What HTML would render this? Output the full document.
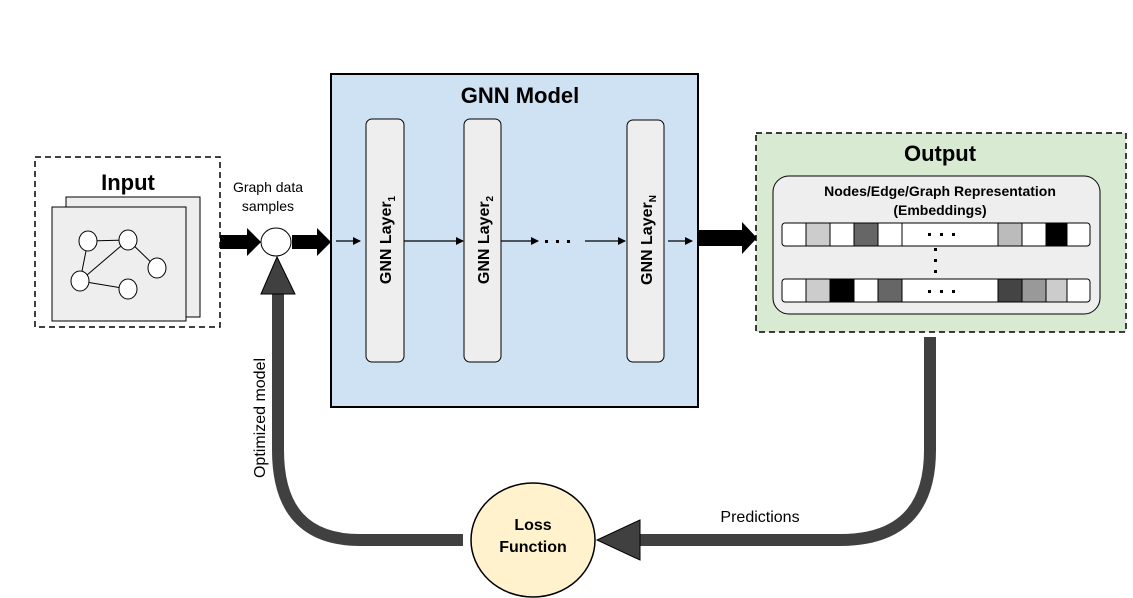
<!DOCTYPE html>
<html><head><meta charset="utf-8"><style>
html,body{margin:0;padding:0;background:#fff;}
svg{display:block;font-family:"Liberation Sans",Arial,sans-serif;}
</style></head><body>
<svg width="1133" height="598" viewBox="0 0 1133 598" xmlns="http://www.w3.org/2000/svg">
<defs>
<marker id="ah" markerWidth="8" markerHeight="8" refX="7" refY="4" orient="auto" markerUnits="userSpaceOnUse"><path d="M0,0 L8,4 L0,8 Z" fill="#000"/></marker>
</defs>
<!-- Input -->
<rect x="35" y="157" width="185" height="170" fill="#fff" stroke="#000" stroke-width="1.5" stroke-dasharray="6,4"/>
<text x="128" y="190" font-size="22" font-weight="bold" text-anchor="middle">Input</text>
<rect x="66" y="197" width="134" height="120" fill="#eee" stroke="#000" stroke-width="1"/>
<rect x="52" y="207" width="134" height="114" fill="#eee" stroke="#000" stroke-width="1"/>
<g stroke="#000" stroke-width="1" fill="#fff">
<line x1="88" y1="241" x2="128" y2="240"/><line x1="88" y1="241" x2="80" y2="281"/>
<line x1="128" y1="240" x2="80" y2="281"/><line x1="128" y1="240" x2="157" y2="268"/>
<line x1="80" y1="281" x2="128" y2="289"/>
<ellipse cx="88" cy="241" rx="9" ry="10"/><ellipse cx="128" cy="240" rx="9" ry="10"/>
<ellipse cx="157" cy="268" rx="9" ry="10"/><ellipse cx="80" cy="281" rx="9" ry="10"/>
<ellipse cx="128" cy="289" rx="9" ry="10"/>
</g>
<text x="268" y="192" font-size="14" text-anchor="middle">Graph data</text>
<text x="268" y="211" font-size="14" text-anchor="middle">samples</text>
<!-- big arrows -->
<path d="M220,235 H247 V228 L261,242 L247,256 V249 H220 Z" fill="#000"/>
<path d="M292,235 H317 V228 L331,242 L317,256 V249 H292 Z" fill="#000"/>
<path d="M699,230 H742 V222 L757,238 L742,254 V246 H699 Z" fill="#000"/>
<ellipse cx="276" cy="242" rx="15" ry="14" fill="#fff" stroke="#000" stroke-width="1"/>
<!-- GNN model -->
<rect x="331" y="74" width="367" height="333" fill="#cfe2f3" stroke="#000" stroke-width="2"/>
<text x="520" y="103" font-size="22" font-weight="bold" text-anchor="middle">GNN Model</text>
<g fill="#eee" stroke="#000" stroke-width="1">
<rect x="366" y="119" width="38" height="243" rx="6"/>
<rect x="464" y="119" width="37" height="243" rx="6"/>
<rect x="627" y="120" width="37" height="242" rx="6"/>
</g>
<g font-size="16" font-weight="bold">
<text transform="translate(391,240) rotate(-90)" text-anchor="middle">GNN Layer<tspan font-size="10" dy="4">1</tspan></text>
<text transform="translate(489,240) rotate(-90)" text-anchor="middle">GNN Layer<tspan font-size="10" dy="4">2</tspan></text>
<text transform="translate(652,240) rotate(-90)" text-anchor="middle">GNN Layer<tspan font-size="10" dy="4">N</tspan></text>
</g>
<g stroke="#000" stroke-width="1.3" marker-end="url(#ah)">
<line x1="336" y1="241" x2="360" y2="241"/>
<line x1="404" y1="241" x2="463" y2="241"/>
<line x1="501" y1="241" x2="538" y2="241"/>
<line x1="585" y1="241" x2="625" y2="241"/>
<line x1="668" y1="241" x2="692" y2="241"/>
</g>
<g fill="#000">
<rect x="545" y="240" width="3" height="3"/><rect x="556" y="240" width="3" height="3"/><rect x="567" y="240" width="3" height="3"/>
</g>
<!-- Output -->
<rect x="756" y="133" width="370" height="199" fill="#d9ead3" stroke="#000" stroke-width="1.5" stroke-dasharray="6,4"/>
<text x="940" y="161" font-size="22" font-weight="bold" text-anchor="middle">Output</text>
<rect x="773" y="176" width="327" height="138" rx="16" fill="#eee" stroke="#000" stroke-width="1"/>
<text x="940" y="196" font-size="14" font-weight="bold" text-anchor="middle">Nodes/Edge/Graph  Representation</text>
<text x="940" y="215" font-size="14" font-weight="bold" text-anchor="middle">(Embeddings)</text>
<g stroke="#000" stroke-width="1">
<rect x="782" y="223" width="308" height="23" rx="3" fill="#fff"/>
<rect x="806" y="223" width="24" height="23" fill="#ccc"/>
<rect x="854" y="223" width="24" height="23" fill="#666"/>
<rect x="998" y="223" width="24" height="23" fill="#bbb"/>
<rect x="1046" y="223" width="21" height="23" fill="#000"/>
<line x1="902" y1="223" x2="902" y2="246"/>
<rect x="782" y="279" width="308" height="23" rx="3" fill="#fff"/>
<rect x="806" y="279" width="24" height="23" fill="#ccc"/>
<rect x="830" y="279" width="24" height="23" fill="#000"/>
<rect x="878" y="279" width="24" height="23" fill="#666"/>
<rect x="998" y="279" width="24" height="23" fill="#444"/>
<rect x="1022" y="279" width="24" height="23" fill="#999"/>
<rect x="1046" y="279" width="21" height="23" fill="#ccc"/>
</g>
<g fill="#000">
<rect x="928" y="233" width="3" height="3"/><rect x="940" y="233" width="3" height="3"/><rect x="952" y="233" width="3" height="3"/>
<rect x="928" y="290" width="3" height="3"/><rect x="940" y="290" width="3" height="3"/><rect x="952" y="290" width="3" height="3"/>
<rect x="934" y="248" width="3" height="3"/><rect x="934" y="259" width="3" height="3"/><rect x="934" y="270" width="3" height="3"/>
</g>
<!-- feedback loops -->
<path d="M930,337 V450 Q930,540 840,540 H638" fill="none" stroke="#404040" stroke-width="12" stroke-linejoin="round"/>
<path d="M640,520 L597,540 L640,560 Z" fill="#404040" stroke="#000" stroke-width="1"/>
<path d="M463,540 H360 Q278,540 278,450 V290" fill="none" stroke="#404040" stroke-width="12"/>
<path d="M261,294 L277,257 L295,294 Z" fill="#404040" stroke="#000" stroke-width="1"/>
<text x="760" y="522" font-size="16" text-anchor="middle">Predictions</text>
<text transform="translate(265,418) rotate(-90)" font-size="16" text-anchor="middle">Optimized model</text>
<ellipse cx="533" cy="540" rx="62" ry="57" fill="#fff2cc" stroke="#000" stroke-width="1.5"/>
<text x="533" y="530" font-size="16" font-weight="bold" text-anchor="middle">Loss</text>
<text x="533" y="552" font-size="16" font-weight="bold" text-anchor="middle">Function</text>
</svg>
</body></html>
